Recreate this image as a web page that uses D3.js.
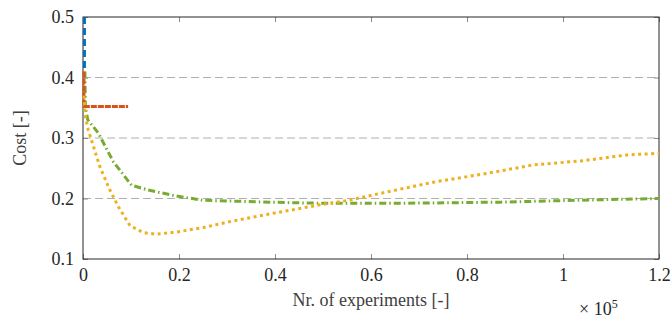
<!DOCTYPE html>
<html>
<head>
<meta charset="utf-8">
<script src="https://cdn.jsdelivr.net/npm/d3@7"></script>
<style>
  body { margin: 0; background: #fff; }
</style>
</head>
<body>
<div id="chart"></div>
<script>
// Values (x in units of 1e5 experiments)
var xTicks = [0, 0.2, 0.4, 0.6, 0.8, 1, 1.2];
var yTicks = [0.1, 0.2, 0.3, 0.4, 0.5];
var gridTicks = [0.2, 0.3, 0.4];

var blueX = [0.003, 0.003];
var blueY = [0.5, 0.41];

var redX = [0.002, 0.002, 0.094];
var redY = [0.41, 0.352, 0.352];

var greenX = [0.004, 0.005, 0.010, 0.032, 0.063, 0.101, 0.136, 0.195, 0.251, 0.341, 0.438, 0.508, 0.556, 0.65, 0.765, 0.87, 0.973, 1.08, 1.2];
var greenY = [0.41, 0.35, 0.330, 0.308, 0.261, 0.222, 0.214, 0.204, 0.197, 0.195, 0.193, 0.192, 0.192, 0.192, 0.193, 0.194, 0.196, 0.198, 0.200];

var orangeX = [0.002, 0.005, 0.011, 0.035, 0.056, 0.074, 0.098, 0.126, 0.153, 0.195, 0.251, 0.313, 0.396, 0.48, 0.556, 0.626, 0.73, 0.834, 0.938, 1.042, 1.133, 1.2];
var orangeY = [0.37, 0.335, 0.313, 0.253, 0.214, 0.186, 0.155, 0.1435, 0.141, 0.1446, 0.152, 0.163, 0.1755, 0.1876, 0.1975, 0.2096, 0.227, 0.2405, 0.2554, 0.2625, 0.272, 0.2747];

var margin = { top: 17, right: 13, bottom: 63, left: 83 },
    width = 672 - margin.left - margin.right,
    height = 322 - margin.top - margin.bottom;

var serif = "Liberation Serif";

var svg = d3.select("#chart")
  .append("svg")
    .attr("width", 672)
    .attr("height", 322)
    .attr("font-family", serif)
  .append("g")
    .attr("transform", "translate(" + margin.left + "," + margin.top + ")");

var x = d3.scaleLinear().domain([0, 1.2]).range([0, width]);
var y = d3.scaleLinear().domain([0.1, 0.5]).range([height, 0]);

// Dashed horizontal grid
svg.selectAll(".grid")
  .data(gridTicks)
  .enter().append("line")
    .attr("x1", 0)
    .attr("x2", width)
    .attr("y1", d => y(d))
    .attr("y2", d => y(d))
    .attr("stroke", "#b0b0b0")
    .attr("stroke-width", 1)
    .attr("stroke-dasharray", "8,4");

// Axes with inward ticks
var fmt = d3.format("~g");
var xAxis = svg.append("g")
    .attr("transform", "translate(0," + height + ")")
    .call(d3.axisBottom(x).tickValues(xTicks).tickFormat(fmt).tickSize(-5).tickPadding(9));
var xTop = svg.append("g")
    .call(d3.axisTop(x).tickValues(xTicks).tickFormat("").tickSize(-5));
var yAxis = svg.append("g")
    .call(d3.axisLeft(y).tickValues(yTicks).tickFormat(fmt).tickSize(-5).tickPadding(9));
var yRight = svg.append("g")
    .attr("transform", "translate(" + width + ",0)")
    .call(d3.axisRight(y).tickValues(yTicks).tickFormat("").tickSize(-5));

[xAxis, xTop, yAxis, yRight].forEach(function (a) {
  a.attr("font-family", serif).attr("font-size", 18);
  a.select(".domain").remove();
  a.selectAll(".tick line").attr("stroke", "#8c8c8c");
  a.selectAll(".tick text")
    .attr("fill", "#262626")
    .style("font-family", serif)
    .style("font-size", "18px");
});

// Box
svg.append("rect")
    .attr("x", 0).attr("y", 0)
    .attr("width", width).attr("height", height)
    .attr("fill", "none")
    .attr("stroke", "#262626")
    .attr("stroke-width", 1);

// Series
var series = [
  { xs: blueX, ys: blueY, color: "#0072BD", dash: "7,4", w: 3 },
  { xs: greenX, ys: greenY, color: "#77AC30", dash: "7,3,1.5,3", w: 3 },
  { xs: redX, ys: redY, color: "#D95319", dash: "6,1", w: 3 },
  { xs: orangeX, ys: orangeY, color: "#EDB120", dash: "3,3.5", w: 3 }
];

var line = d3.line()
  .x(d => x(d[0]))
  .y(d => y(d[1]));

svg.selectAll(".series")
  .data(series)
  .enter().append("path")
    .attr("d", d => line(d.xs.map((v, i) => [v, d.ys[i]])))
    .attr("fill", "none")
    .attr("stroke", d => d.color)
    .attr("stroke-width", d => d.w)
    .attr("stroke-dasharray", d => d.dash);

// Labels
svg.append("text")
    .attr("text-anchor", "middle")
    .attr("x", width / 2)
    .attr("y", height + 47)
    .attr("fill", "#404040")
    .style("font-family", serif)
    .style("font-size", "18px")
    .text("Nr. of experiments [-]");

var exp = svg.append("text")
    .attr("x", width - 80)
    .attr("y", height + 56)
    .attr("fill", "#262626")
    .style("font-family", serif)
    .style("font-size", "18px");
exp.append("tspan").text("\u00d7 10");
exp.append("tspan").attr("dy", -7).style("font-size", "12px").text("5");

svg.append("text")
    .attr("text-anchor", "middle")
    .attr("transform", "rotate(-90)")
    .attr("x", -height / 2)
    .attr("y", -57)
    .attr("fill", "#404040")
    .style("font-family", serif)
    .style("font-size", "18px")
    .text("Cost [-]");
</script>
</body>
</html>
